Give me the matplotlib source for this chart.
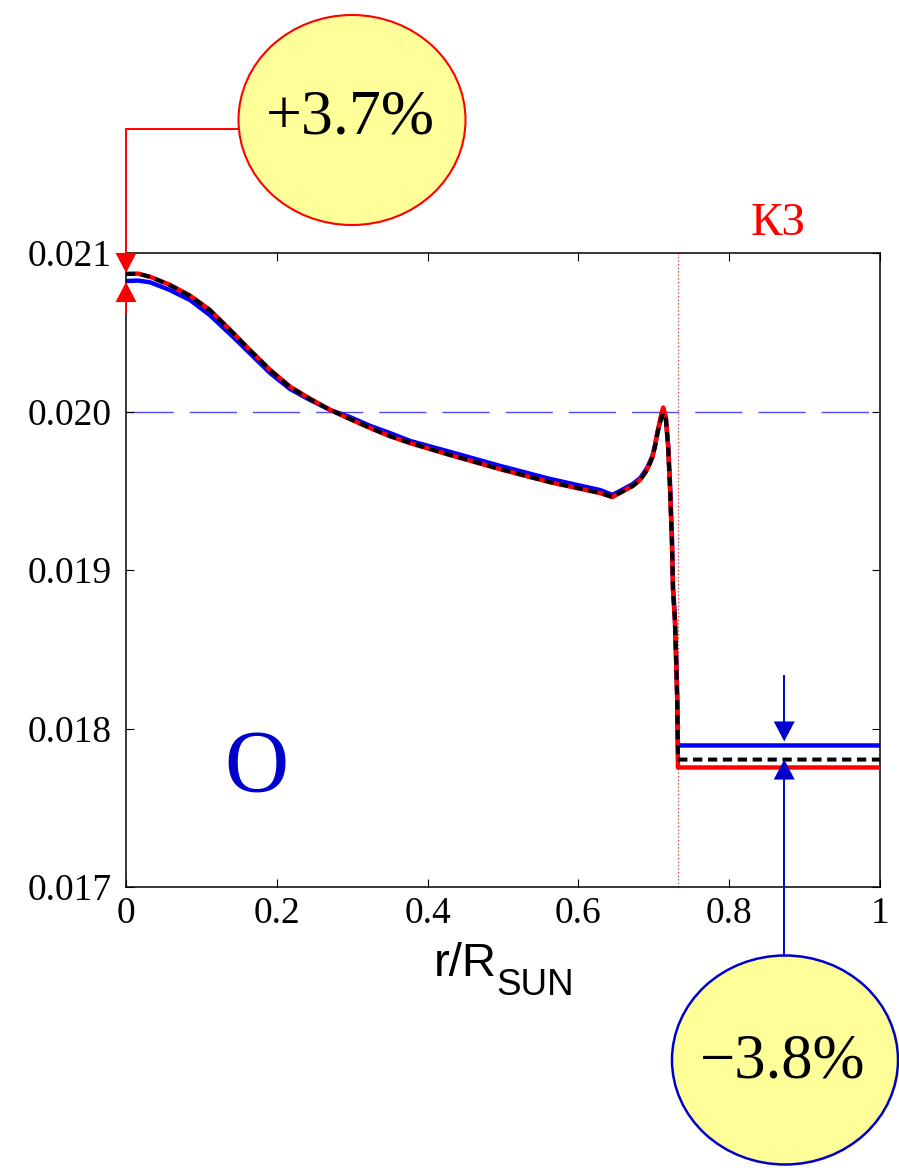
import matplotlib
matplotlib.use("Agg")
import matplotlib.pyplot as plt
from matplotlib.patches import Ellipse, Polygon
from matplotlib.lines import Line2D

# ---- data -------------------------------------------------------------
# radial grid (fraction of solar radius) for the radiative interior
r_core = [0.0, 0.016, 0.032, 0.058, 0.085, 0.111, 0.138, 0.164, 0.191, 0.2175,
          0.244, 0.271, 0.297, 0.324, 0.350, 0.377, 0.430, 0.496, 0.562, 0.629,
          0.645, 0.655, 0.672, 0.682, 0.691, 0.698, 0.7015, 0.705, 0.710,
          0.7125, 0.716, 0.719, 0.7215, 0.724, 0.7255, 0.728, 0.7295, 0.731,
          0.732]

# oxygen mass fraction, three solar models
o_blue = [0.020823, 0.020826, 0.020815, 0.020767, 0.020703, 0.020609, 0.020489,
          0.020369, 0.020243, 0.020142, 0.020073, 0.020009, 0.019965, 0.019909,
          0.019864, 0.019814, 0.019745, 0.019657, 0.019575, 0.019504, 0.019474,
          0.019498, 0.019542, 0.019580, 0.019642, 0.019717, 0.019785, 0.019872,
          0.019965, 0.019992, 0.019955, 0.019790, 0.019545, 0.019210, 0.018890,
          0.018700, 0.018470, 0.018210, 0.017893]
o_red = [0.020868, 0.020870, 0.020850, 0.020800, 0.020731, 0.020642, 0.020516,
         0.020390, 0.020264, 0.020157, 0.020081, 0.020010, 0.019952, 0.019895,
         0.019844, 0.019800, 0.019725, 0.019636, 0.019554, 0.019485, 0.019460,
         0.019486, 0.019530, 0.019569, 0.019633, 0.019710, 0.019780, 0.019872,
         0.019985, 0.020025, 0.019965, 0.019780, 0.019515, 0.019185, 0.018870,
         0.018680, 0.018445, 0.018190, 0.017754]
o_black = [0.020868, 0.020869, 0.020849, 0.020798, 0.020729, 0.020640, 0.020514,
           0.020388, 0.020262, 0.020155, 0.020079, 0.020009, 0.019953, 0.019896,
           0.019845, 0.019801, 0.019726, 0.019637, 0.019555, 0.019486, 0.019461,
           0.019486, 0.019530, 0.019568, 0.019631, 0.019707, 0.019776, 0.019864,
           0.019960, 0.019991, 0.019946, 0.019776, 0.019520, 0.019189, 0.018874,
           0.018685, 0.018451, 0.018199, 0.017845]

# convective envelope (well mixed) abundances
r_env = [0.732, 1.0]
env_blue = [0.017893, 0.017893]
env_red = [0.017754, 0.017754]
env_black = [0.017804, 0.017804]

r_cz = 0.732           # base of the convection zone
o_ref = 0.020          # reference level
r_mark = 0.873         # where the envelope difference is marked

x_ticks = [0, 0.2, 0.4, 0.6, 0.8, 1.0]
x_labels = ["0", "0.2", "0.4", "0.6", "0.8", "1"]
y_ticks = [0.017, 0.018, 0.019, 0.020, 0.021]
y_labels = ["0.017", "0.018", "0.019", "0.020", "0.021"]

label_center = "+3.7%"
label_env = "\u22123.8%"
label_cz = "КЗ"
label_elem = "O"

# ---- figure -----------------------------------------------------------
W, H = 899, 1176
fig = plt.figure(figsize=(W / 100, H / 100), dpi=100)
SERIF = ["Liberation Serif", "DejaVu Serif"]
SANS = ["Liberation Sans", "DejaVu Sans"]

ax = fig.add_axes([126 / W, 1 - 887 / H, 754 / W, 634 / H])
ax.set_xlim(0, 1)
ax.set_ylim(0.017, 0.021)

ax.axhline(o_ref, color="#4d4dff", lw=1.0, dashes=(34, 11.5), zorder=1)
ax.axvline(r_cz, color="red", lw=0.8, ls=(0, (1, 2.2)), zorder=1)

ax.plot(r_core + r_env, o_blue + env_blue, color="#0000ff", lw=3.2,
        solid_joinstyle="round", zorder=2)
ax.plot(r_core + r_env, o_red + env_red, color="#ff0000", lw=3.2,
        solid_joinstyle="round", zorder=3)
ax.plot(r_core + r_env, o_black + env_black, color="black", lw=2.9,
        dashes=(2.3, 1.4), zorder=4)

ax.set_xticks(x_ticks)
ax.set_xticklabels(x_labels)
ax.set_yticks(y_ticks)
ax.set_yticklabels(y_labels)
ax.tick_params(direction="in", length=6, width=0.8, top=True, right=True,
               labelsize=27)
ax.tick_params(axis="x", pad=7)
ax.tick_params(axis="y", pad=10.5)
for lab in ax.get_xticklabels() + ax.get_yticklabels():
    lab.set_family(SERIF)
for sp in ax.spines.values():
    sp.set_linewidth(1.1)

# ---- helpers in image pixel coordinates (origin top-left) --------------
def fxy(x, y):
    return (x / W, 1 - y / H)


def data_px(x, y):
    dx, dy = ax.transData.transform((x, y))
    return dx, H - dy


def seg(points, color, lw):
    xs = [p[0] / W for p in points]
    ys = [1 - p[1] / H for p in points]
    fig.add_artist(Line2D(xs, ys, color=color, lw=lw, transform=fig.transFigure,
                          solid_joinstyle="miter"))


def tri(tip_x, tip_y, direction, color, h=20, half=10.5):
    # direction=+1: pointing down (base above tip), -1: pointing up
    base_y = tip_y - direction * h
    pts = [fxy(tip_x, tip_y), fxy(tip_x - half, base_y), fxy(tip_x + half, base_y)]
    fig.add_artist(Polygon(pts, closed=True, color=color, lw=0,
                           transform=fig.transFigure))
    return base_y


def bubble(cx, cy, w, h, edge, lw):
    fig.add_artist(Ellipse(fxy(cx, cy), w / W, h / H, facecolor="#ffff99",
                           edgecolor=edge, lw=lw, transform=fig.transFigure))


# ---- centre marker (red) ----------------------------------------------
red = "#ff0000"
x0, y_blk0 = data_px(r_core[0], o_black[0])
_, y_blu0 = data_px(r_core[0], o_blue[0])
b1 = tri(x0, y_blk0 - 1, +1, red)
seg([(239, 129), (x0, 129), (x0, b1)], red, 1.4)
b2 = tri(x0, y_blu0 + 1, -1, red)
seg([(x0, b2), (x0, b2 + 11)], red, 1.4)
bubble(352, 120, 227, 210, red, 1.5)
fig.text(350 / W, 1 - 133 / H, label_center, family=SERIF, fontsize=46,
         ha="center", va="baseline")

# ---- envelope marker (blue) -------------------------------------------
dblue = "#0000cc"
xm, y_env_b = data_px(r_mark, env_blue[0])
_, y_env_k = data_px(r_mark, env_black[0])
b3 = tri(xm, y_env_b - 4, +1, dblue)
seg([(xm, 676), (xm, b3)], dblue, 1.4)
b4 = tri(xm, y_env_k, -1, dblue)
seg([(xm, b4), (xm, 956)], dblue, 1.4)
bubble(785, 1060, 226, 209, dblue, 1.8)
fig.text(783 / W, 1 - 1078 / H, label_env, family=SERIF, fontsize=45,
         ha="center", va="baseline")

# ---- labels -------------------------------------------------------------
fig.text(778 / W, 1 - 235 / H, label_cz, family=SERIF, fontsize=34,
         color="red", ha="center", va="baseline")
fig.text(256 / W, 1 - 791 / H, label_elem, family=SERIF, fontsize=64,
         color="#0000cc", ha="center", va="baseline")
fig.text(497 / W, 1 - 976 / H, "r/R", family=SANS, fontsize=34,
         ha="right", va="baseline")
fig.text(496 / W, 1 - 995 / H, "SUN", family=SANS, fontsize=26.5,
         ha="left", va="baseline")

fig.savefig("out.png", dpi=100)
